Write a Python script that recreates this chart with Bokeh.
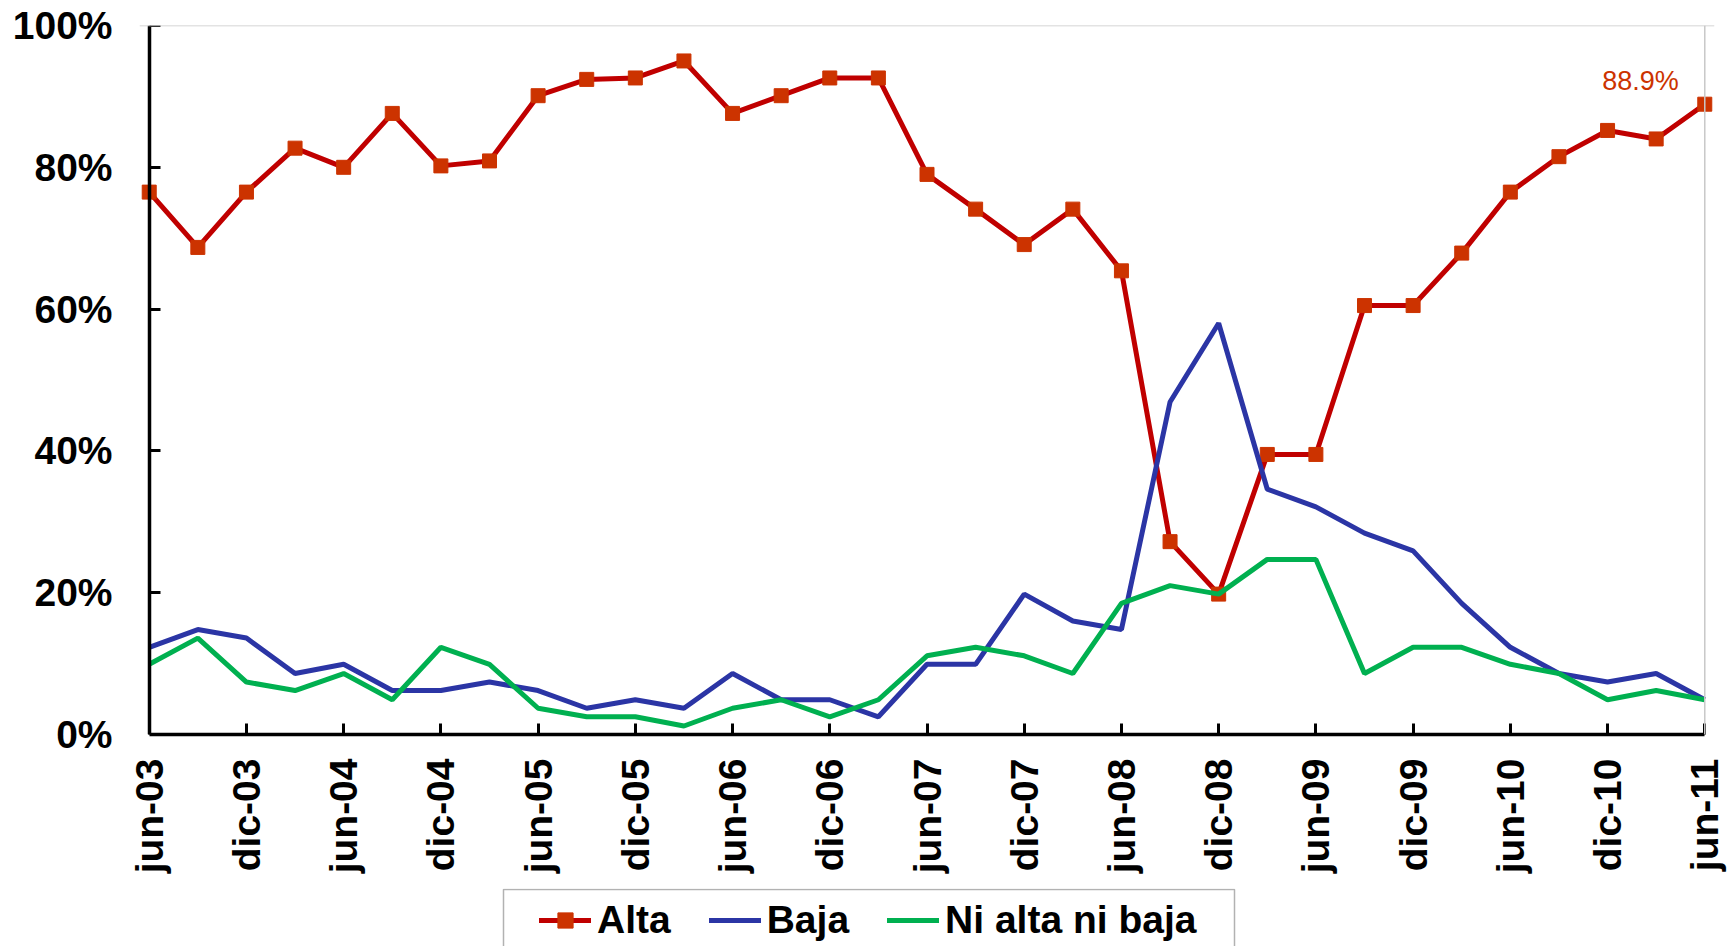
import math
from bokeh.plotting import figure
from bokeh.layouts import column
from bokeh.models import (ColumnDataSource, FixedTicker, NumeralTickFormatter, Range1d,
                          Legend, LegendItem, Span, LinearAxis, BoxAnnotation)
from bokeh.core.properties import value
from bokeh.embed import file_html
from bokeh.resources import INLINE

# ---- data ----
periods = ["jun-03", "sep-03", "dic-03", "mar-04", "jun-04", "sep-04", "dic-04", "mar-05",
           "jun-05", "sep-05", "dic-05", "mar-06", "jun-06", "sep-06", "dic-06", "mar-07",
           "jun-07", "sep-07", "dic-07", "mar-08", "jun-08", "sep-08", "dic-08", "mar-09",
           "jun-09", "sep-09", "dic-09", "mar-10", "jun-10", "sep-10", "dic-10", "mar-11",
           "jun-11"]
alta = [76.5, 68.7, 76.5, 82.7, 80.0, 87.6, 80.2, 80.9, 90.1, 92.4, 92.6, 95.0, 87.6,
        90.1, 92.6, 92.6, 79.0, 74.1, 69.1, 74.1, 65.4, 27.2, 19.8, 39.5, 39.5, 60.5,
        60.5, 67.9, 76.5, 81.5, 85.2, 84.0, 88.9]
baja = [12.3, 14.8, 13.6, 8.6, 9.9, 6.2, 6.2, 7.4, 6.2, 3.7, 4.9, 3.7, 8.6, 4.9, 4.9,
        2.5, 9.9, 9.9, 19.8, 16.0, 14.8, 46.9, 58.0, 34.6, 32.1, 28.4, 25.9, 18.5, 12.3,
        8.6, 7.4, 8.6, 4.9]
ni = [9.9, 13.6, 7.4, 6.2, 8.6, 4.9, 12.3, 9.9, 3.7, 2.5, 2.5, 1.2, 3.7, 4.9, 2.5, 4.9,
      11.1, 12.3, 11.1, 8.6, 18.5, 21.0, 19.8, 24.7, 24.7, 8.6, 12.3, 12.3, 9.9, 8.6,
      4.9, 6.2, 4.9]
series_names = ["Alta", "Baja", "Ni alta ni baja"]
y_ticks = [0, 0.2, 0.4, 0.6, 0.8, 1.0]

n = len(periods)
idx = list(range(n))
src = ColumnDataSource(dict(x=idx, alta=[v / 100 for v in alta],
                            baja=[v / 100 for v in baja], ni=[v / 100 for v in ni]))

FONT = "Liberation Sans"
RED_LINE = "#C00000"
RED_MARK = "#CC3300"
BLUE = "#2B35A5"
GREEN = "#00B050"
LW = 5
BORDER_L, BORDER_R = 139, 21


def draw_series(fig, visible=True, cap="butt"):
    rl = fig.line("x", "alta", source=src, line_color=RED_LINE, line_width=LW,
                  line_cap=cap, visible=visible)
    rm = fig.scatter("x", "alta", source=src, marker="square", size=14,
                     fill_color=RED_MARK, line_color=RED_MARK, visible=visible)
    rb = fig.line("x", "baja", source=src, line_color=BLUE, line_width=LW,
                  line_cap=cap, visible=visible)
    rn = fig.line("x", "ni", source=src, line_color=GREEN, line_width=LW,
                  line_cap=cap, visible=visible)
    return rl, rm, rb, rn


pad = 0.2
p = figure(width=1735, height=888, output_backend="svg", toolbar_location=None,
           x_range=Range1d(-pad, n - 1 + pad), y_range=Range1d(0, 1),
           min_border_left=BORDER_L, min_border_right=BORDER_R, min_border_top=25,
           min_border_bottom=154)
p.background_fill_color = "white"
p.border_fill_color = "white"
p.outline_line_color = None
p.xgrid.visible = False
p.ygrid.visible = False

# frame top / right light borders
p.add_layout(Span(location=1.0, dimension="width", line_color="#C8C8C8", line_width=1.5))
p.add_layout(Span(location=n - 1, dimension="height", line_color="#C8C8C8", line_width=1.5))

draw_series(p)

# data label for last value
p.text(x=[idx[-1]], y=[alta[-1] / 100], text=[f"{alta[-1]:.1f}%"],
       x_offset=-26, y_offset=-23, text_align="right", text_baseline="middle",
       text_font=value(FONT), text_font_size="27px", text_color=RED_MARK)

# x axis
xa = p.xaxis[0]
xa.ticker = FixedTicker(ticks=idx[::2])
xa.major_label_overrides = {i: periods[i] for i in idx[::2]}
xa.major_label_orientation = math.pi / 2
xa.bounds = (0, n - 1)
xa.major_label_standoff = 24
xa.axis_line_color = "black"
xa.axis_line_width = 3.5
xa.major_tick_line_color = "black"
xa.major_tick_line_width = 3
xa.major_tick_in = 11
xa.major_tick_out = 0
xa.minor_tick_line_color = None

# y axis labels (at frame edge, no line/ticks)
ya = p.yaxis[0]
ya.ticker = FixedTicker(ticks=y_ticks)
ya.formatter = NumeralTickFormatter(format="0%")
ya.axis_line_color = None
ya.major_tick_line_color = None
ya.major_tick_in = 0
ya.major_tick_out = 0
ya.minor_tick_line_color = None
ya.major_label_standoff = 27

for ax in (xa, ya):
    ax.major_label_text_font = FONT
    ax.major_label_text_font_style = "bold"
    ax.major_label_text_font_size = "39px"
    ax.major_label_text_color = "black"

# y axis line + ticks at x = 0
ya2 = LinearAxis(ticker=FixedTicker(ticks=y_ticks), fixed_location=0)
ya2.major_label_text_font_size = "0px"
ya2.major_label_text_alpha = 0
ya2.major_label_standoff = 0
ya2.minor_tick_line_color = None
ya2.axis_line_color = "black"
ya2.axis_line_width = 3.5
ya2.major_tick_line_color = "black"
ya2.major_tick_line_width = 3
ya2.major_tick_in = 11
ya2.major_tick_out = 0
p.add_layout(ya2, "left")

# ---- legend strip ----
lg = figure(width=1735, height=58, output_backend="svg", toolbar_location=None,
            x_range=Range1d(0, 1), y_range=Range1d(0, 1),
            x_axis_type=None, y_axis_type=None,
            min_border_left=BORDER_L, min_border_right=BORDER_R,
            min_border_top=0, min_border_bottom=0)
lg.outline_line_color = None
lg.xgrid.visible = False
lg.ygrid.visible = False
lg.background_fill_color = "white"
lg.border_fill_color = "white"
rl, rm, rb, rn = draw_series(lg, visible=False, cap="round")

# legend frame box
lg.add_layout(BoxAnnotation(left=503, right=1234, top=1, bottom=120,
                            left_units="canvas", right_units="canvas",
                            top_units="canvas", bottom_units="canvas",
                            fill_alpha=0, line_color="black", line_width=1.5))

legend = Legend(items=[LegendItem(label=series_names[0], renderers=[rl, rm]),
                       LegendItem(label=series_names[1], renderers=[rb]),
                       LegendItem(label=series_names[2], renderers=[rn])],
                orientation="horizontal", location=(400, 4))
legend.label_text_font = FONT
legend.label_text_font_style = "bold"
legend.label_text_font_size = "39px"
legend.label_text_color = "black"
legend.label_standoff = 6
legend.glyph_width = 52
legend.glyph_height = 38
legend.spacing = 38
legend.padding = 13
legend.margin = 0
legend.border_line_color = None
legend.background_fill_alpha = 0
legend.inactive_fill_alpha = 0
lg.add_layout(legend, "center")

layout = column(p, lg, spacing=0)
open("out.html", "w").write(file_html(layout, INLINE))
